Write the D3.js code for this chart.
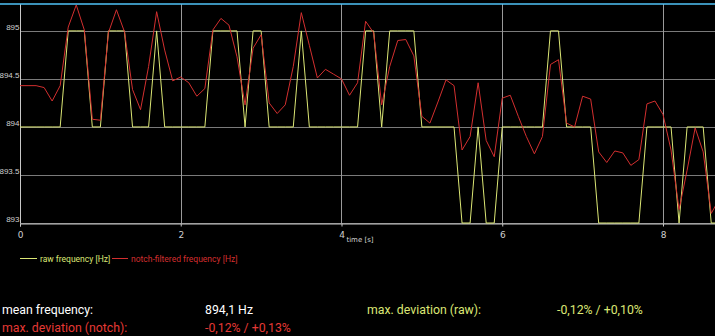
<!DOCTYPE html>
<html>
<head>
<meta charset="utf-8">
<script src="https://cdn.jsdelivr.net/npm/d3@7"></script>
<style>
  body { margin: 0; background: #000; overflow: hidden; }
  svg { display: block; }
</style>
</head>
<body>
<div id="chart"></div>
<script>
// sample times [s]
var times = [0.0,0.1,0.2,0.3,0.4,0.5,0.6,0.7,0.8,0.9,
  1.0,1.1,1.2,1.3,1.4,1.5,1.6,1.7,1.8,1.9,
  2.0,2.1,2.2,2.3,2.4,2.5,2.6,2.7,2.8,2.9,
  3.0,3.1,3.2,3.3,3.4,3.5,3.6,3.7,3.8,3.9,
  4.0,4.1,4.2,4.3,4.4,4.5,4.6,4.7,4.8,4.9,
  5.0,5.1,5.2,5.3,5.4,5.5,5.6,5.7,5.8,5.9,
  6.0,6.1,6.2,6.3,6.4,6.5,6.6,6.7,6.8,6.9,
  7.0,7.1,7.2,7.3,7.4,7.5,7.6,7.7,7.8,7.9,
  8.0,8.1,8.2,8.3,8.4,8.5,8.6,8.7];

// raw frequency [Hz]
var rawFreq = [894,894,894,894,894,894,895,895,895,894,
  894,895,895,895,894,894,894,895,894,894,
  894,894,894,894,895,895,895,895,894,895,
  895,894,894,894,894,895,894,894,894,894,
  894,894,894,895,895,894,895,895,895,895,
  894,894,894,894,894,893,893,894,893,893,
  894,894,894,894,894,894,895,895,894,894,
  894,894,893,893,893,893,893,893,894,894,
  894,894,893,894,894,894,893,893];

// notch-filtered frequency [Hz]
var notchFreq = [894.43,894.43,894.43,894.41,894.27,894.43,895.04,895.27,895.01,894.08,
  894.07,894.98,895.22,894.99,894.39,894.18,894.63,895.20,894.80,894.48,
  894.52,894.46,894.32,894.40,895.01,895.13,895.06,894.73,894.23,894.82,
  894.96,894.25,894.14,894.23,894.63,895.19,894.85,894.51,894.60,894.55,
  894.50,894.33,894.46,895.10,894.98,894.23,894.63,894.90,894.91,894.74,
  894.11,894.04,894.26,894.49,894.43,893.76,893.90,894.46,893.86,893.69,
  894.30,894.33,894.11,893.90,893.72,893.90,894.65,894.70,894.04,894.00,
  894.32,894.29,893.74,893.63,893.75,893.73,893.60,893.66,894.24,894.27,
  894.13,893.76,893.14,893.55,893.99,893.74,893.10,893.25];

var xTicks = [0, 2, 4, 6, 8];
var yTicks = [893, 893.5, 894, 894.5, 895];

var rawColor = '#dce775';
var notchColor = '#d32f2f';

var width = 715, height = 336;
var plotLeft = 20, plotRight = 715, plotTop = 4, plotBottom = 223;

var svg = d3.select('#chart').append('svg')
  .attr('width', width)
  .attr('height', height);

var x = d3.scaleLinear().domain([0, 8.647]).range([plotLeft, plotRight]);
var y = d3.scaleLinear().domain([893, 895.28]).range([plotBottom, plotTop]);

svg.append('clipPath').attr('id', 'plotclip')
  .append('rect')
  .attr('x', plotLeft).attr('y', 0)
  .attr('width', plotRight - plotLeft).attr('height', plotBottom + 1);

// horizontal grid
svg.append('g')
  .selectAll('line')
  .data(yTicks)
  .enter().append('line')
  .attr('x1', plotLeft).attr('x2', plotRight)
  .attr('y1', function(d){ return Math.round(y(d)) + 0.5; })
  .attr('y2', function(d){ return Math.round(y(d)) + 0.5; })
  .style('stroke', '#7a7a7a')
  .style('stroke-width', 1);

// vertical grid
svg.append('g')
  .selectAll('line')
  .data(xTicks.slice(1))
  .enter().append('line')
  .attr('x1', function(d){ return Math.round(x(d)) + 0.5; })
  .attr('x2', function(d){ return Math.round(x(d)) + 0.5; })
  .attr('y1', plotTop).attr('y2', plotBottom)
  .style('stroke', '#9a9a9a')
  .style('stroke-width', 1);

// x axis
var xAxis = svg.append('g')
  .attr('transform', 'translate(0,' + (plotBottom + 0.5) + ')')
  .call(d3.axisBottom(x).tickValues(xTicks).tickSize(3).tickFormat(d3.format('d')));
xAxis.select('.domain').style('stroke', '#c8c8c8');
xAxis.selectAll('.tick line').style('stroke', '#c8c8c8');
xAxis.selectAll('text')
  .style('fill', '#d0d0d0')
  .style('font-family', 'DejaVu Sans')
  .style('font-size', '9px')
  .attr('dy', '0.95em');

// y axis
var yAxis = svg.append('g')
  .attr('transform', 'translate(' + (plotLeft + 0.5) + ',0)')
  .call(d3.axisLeft(y).tickValues(yTicks).tickSize(0).tickPadding(1).tickFormat(function(d){ return String(d); }));
yAxis.select('.domain').style('stroke', '#c8c8c8').attr('d', 'M0,' + plotTop + 'V' + plotBottom);
yAxis.selectAll('text')
  .style('fill', '#d0d0d0')
  .style('font-family', 'Liberation Sans')
  .style('font-size', '8px')
  .attr('dy', '-0.2em');

// lines
var plot = svg.append('g').attr('clip-path', 'url(#plotclip)');

var freqLine = d3.line()
  .x(function(d, i){ return x(times[i]); })
  .y(function(d){ return y(d); });

plot.append('path')
  .datum(rawFreq)
  .attr('d', freqLine)
  .style('fill', 'none')
  .style('stroke', rawColor)
  .style('stroke-width', 1);

plot.append('path')
  .datum(notchFreq)
  .attr('d', freqLine)
  .style('fill', 'none')
  .style('stroke', notchColor)
  .style('stroke-width', 1);

// top border
svg.append('line')
  .attr('x1', 0).attr('x2', width)
  .attr('y1', plotTop).attr('y2', plotTop)
  .style('stroke', '#4fc3f7')
  .style('stroke-width', 1.6);

svg.append('text')
  .attr('x', 360).attr('y', 242)
  .attr('text-anchor', 'middle')
  .style('fill', '#d0d0d0')
  .style('font-family', 'DejaVu Sans')
  .style('font-size', '7px')
  .text('time [s]');

// legend
var leg = svg.append('g').style('font-family', 'Roboto').style('font-size', '8.5px');
leg.append('line').attr('x1', 20).attr('x2', 37).attr('y1', 258.5).attr('y2', 258.5)
  .style('stroke', rawColor);
leg.append('text').attr('x', 40).attr('y', 261.5).style('fill', rawColor)
  .text('raw frequency [Hz]');
leg.append('line').attr('x1', 112).attr('x2', 128).attr('y1', 258.5).attr('y2', 258.5)
  .style('stroke', notchColor);
leg.append('text').attr('x', 131).attr('y', 261.5).style('fill', notchColor)
  .text('notch-filtered frequency [Hz]');

// statistics
var stats = svg.append('g').style('font-family', 'Roboto').style('font-size', '12.3px');
stats.append('text').attr('x', 2).attr('y', 314).style('fill', '#ffffff').text('mean frequency:');
stats.append('text').attr('x', 205).attr('y', 314).style('fill', '#ffffff').text('894,1 Hz');
stats.append('text').attr('x', 367).attr('y', 314).style('fill', '#dce775').text('max. deviation (raw):');
stats.append('text').attr('x', 557).attr('y', 314).style('fill', '#dce775').text('-0,12% / +0,10%');
stats.append('text').attr('x', 2).attr('y', 332).style('fill', '#e53935').text('max. deviation (notch):');
stats.append('text').attr('x', 205).attr('y', 332).style('fill', '#e53935').text('-0,12% / +0,13%');
</script>
</body>
</html>
